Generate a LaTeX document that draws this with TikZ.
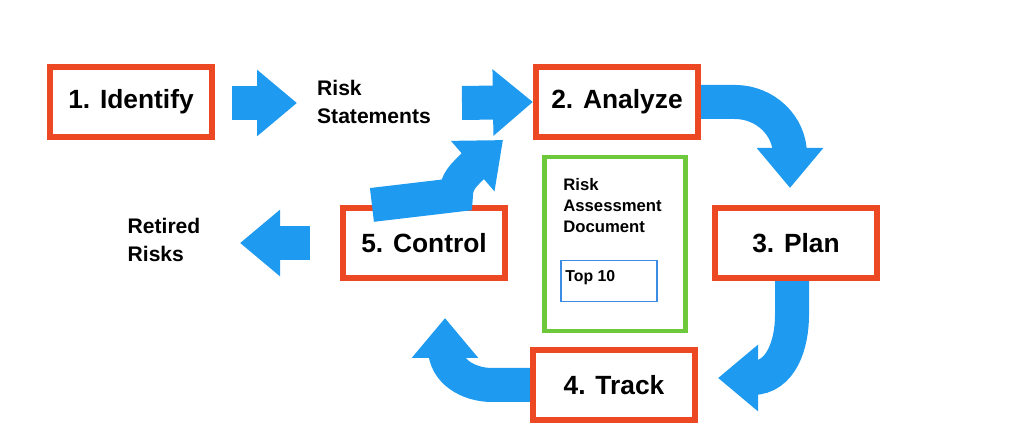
\documentclass[tikz,border=0pt]{standalone}
\usepackage{fontspec}
\setmainfont{Liberation Sans}
\usetikzlibrary{arrows.meta}
\definecolor{stagered}{RGB}{236,72,36}
\definecolor{flowblue}{RGB}{30,155,240}
\definecolor{docgreen}{RGB}{110,200,60}
\definecolor{topblue}{RGB}{60,140,230}

\tikzset{
    stagebox/.style={draw=stagered, line width=3.5pt, fill=white, minimum width=162*0.02cm, minimum height=70*0.02cm, inner sep=0pt, font=\bfseries\fontsize{15}{18}\selectfont},
    flowarrow/.style={draw=flowblue, line width=34*0.02cm, -{Triangle[width=64*0.02cm,length=40*0.02cm]}},
    labeltext/.style={align=left, font=\bfseries\fontsize{12}{16}\selectfont, inner sep=0pt}
}

\begin{document}
\begin{tikzpicture}[x=0.02cm, y=-0.02cm]
    \useasboundingbox (0,0) rectangle (1024,445);
    %% stages
    \node[stagebox] (identify) at (131,102) {1. Identify};
    \node[stagebox] (analyze) at (617,102) {2. Analyze};
    \node[stagebox] (plan) at (796,243) {3. Plan};
    \node[stagebox] (track) at (614,385) {4. Track};
    \node[stagebox] (control) at (424,243) {5. Control};
    \node[labeltext] (statements) at (374,102) {Risk\\Statements};
    \node[labeltext] (retired) at (164,240) {Retired\\Risks};
    %% document in the middle
    \node[draw=docgreen, line width=2.5pt, minimum width=141*0.02cm, minimum height=174*0.02cm] (doc) at (615,244) {};
    \node[labeltext, font=\bfseries\fontsize{9.5}{12}\selectfont, anchor=north west] (doctitle) at (563,178) {Risk\\Assessment\\Document};
    \node[draw=topblue, line width=0.8pt, minimum width=96*0.02cm, minimum height=41*0.02cm] (top) at (609,281) {};
    \node[font=\bfseries\fontsize{9}{11}\selectfont, anchor=north west, inner sep=0pt] (toptext) at (565,270) {Top 10};
    %% arrows
    \coordinate (a1) at (232,103);
    \coordinate (a1end) at (297,103);
    \coordinate (a2) at (462,103);
    \coordinate (a3) at (310,243);
    \coordinate (a3end) at (240,243);
    \draw[flowarrow] (a1) -- (a1end);
    \draw[flowarrow] (a2) -- (analyze.west);
    \draw[flowarrow] (a3) -- (a3end);
    \draw[flowarrow] (analyze.east) -- (735,102) to[out=0,in=90] (790,155) -- (790,188);
    \draw[flowarrow] ([xshift=-4*0.02cm]plan.south) -- (792,315) to[out=-90,in=0] (752,378) -- (718,378);
    \draw[flowarrow] (track.west) -- (492,385) to[out=180,in=-90] (445,348) -- (445,318);
    \draw[flowarrow] ([xshift=32*0.02cm]control.north west) -- (456,195) to[out=90,in=225] (474,165) -- (503,140);
\end{tikzpicture}
\end{document}
